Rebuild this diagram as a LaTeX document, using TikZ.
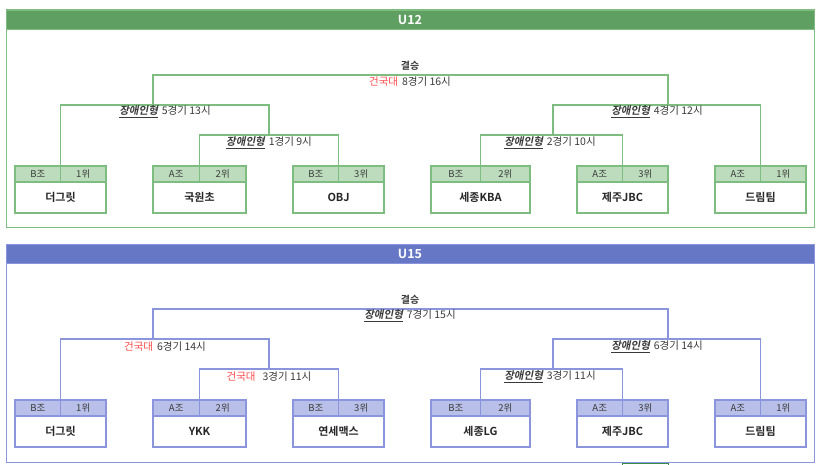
\documentclass[tikz,border=0pt]{standalone}
\usepackage{fontspec}
\setmainfont{Noto Sans CJK KR}[BoldFont={* Bold}, ItalicFont={*}, ItalicFeatures={FakeSlant=0.2}, BoldItalicFont={* Bold}, BoldItalicFeatures={FakeSlant=0.2}]
\usetikzlibrary{positioning}

\definecolor{gbar}{HTML}{5FA062}
\definecolor{gline}{HTML}{7DBE80}
\definecolor{ghead}{HTML}{BDDCBD}
\definecolor{bbar}{HTML}{6677C6}
\definecolor{bline}{HTML}{8A95DE}
\definecolor{bhead}{HTML}{B8BFE8}
\definecolor{txt}{HTML}{3A3A3A}
\definecolor{kred}{HTML}{FF4A4A}
\definecolor{nextg}{HTML}{3A8A48}

\tikzstyle{cellbox} = [rectangle, draw=lc, fill=hc, line width=1.3pt, minimum height=16pt, inner sep=0pt, outer sep=0pt, text=txt, font=\fontsize{9.5}{10}\selectfont]
\tikzstyle{teambox} = [rectangle, draw=lc, fill=white, line width=1.3pt, minimum height=31pt, inner sep=0pt, outer sep=0pt, text=black!85, font=\bfseries\fontsize{11}{12}\selectfont]
\tikzstyle{bar} = [rectangle, fill=bc, draw=lc, minimum width=808pt, minimum height=19pt, inner sep=0pt, outer sep=0pt, text=white, font=\bfseries\fontsize{12.5}{14}\selectfont]
\tikzstyle{frame} = [draw=lc, line width=1pt]
\tikzstyle{link} = [draw=lc, line width=1.2pt]
\tikzstyle{info} = [inner sep=0pt, text=txt, font=\fontsize{10.5}{12}\selectfont]

% name, left x, width, group, rank, team
\newcommand{\team}[6]{%
  \node (#1g) [cellbox, minimum width=#3pt/2, anchor=north west] at (#2,166) {#4};
  \node (#1r) [cellbox, minimum width=#3pt/2, anchor=north west] at (#1g.north east) {#5};
  \node (#1) [teambox, minimum width=#3pt, anchor=north west] at (#1g.south west) {#6};
}
\newcommand{\jang}{\underline{\textbf{\textit{장애인형}}}\hspace{4pt}}
\newcommand{\kku}{\textcolor{kred}{건국대}\hspace{4pt}}

\begin{document}
\begin{tikzpicture}[x=1pt, y=-1pt]
\useasboundingbox (0,0) rectangle (819,465);

% U12
\begin{scope}
  \colorlet{lc}{gline}\colorlet{hc}{ghead}\colorlet{bc}{gbar}
  \draw [frame] (6,10) rectangle (814,228);
  \node (a-title) [bar, anchor=north west] at (6,10) {U12};

  \team{a1}{15}{91}{B조}{1위}{더그릿}
  \team{a2}{153}{93}{A조}{2위}{국원초}
  \team{a3}{293}{91}{B조}{3위}{OBJ}
  \team{a4}{431}{99}{B조}{2위}{세종KBA}
  \team{a5}{577}{91}{A조}{3위}{제주JBC}
  \team{a6}{715}{91}{A조}{1위}{드림팀}

  \coordinate (a-m1) at (269,135);
  \coordinate (a-m2) at (553,135);
  \coordinate (a-m5) at (153,105);
  \coordinate (a-m4) at (668,105);
  \coordinate (a-fin) at (410,75);

  \draw [link] (a2g.north east) |- (a-m1) -| (a3g.north east);
  \draw [link] (a4g.north east) |- (a-m2) -| (a5g.north east);
  \draw [link] (a1g.north east) |- (a-m5) -| (a-m1);
  \draw [link] (a-m2) |- (a-m4) -| (a6g.north east);
  \draw [link] (a-m5) |- (a-fin) -| (a-m4);

  \node (a-final) [info, font=\bfseries\fontsize{10}{12}\selectfont] at (410,66) {결승};
  \node (a-l8) [info] at (410,82) {\kku 8경기 16시};
  \node (a-l5) [info] at (165,112) {\jang 5경기 13시};
  \node (a-l1) [info] at (269,143) {\jang 1경기 9시};
  \node (a-l4) [info] at (657,112) {\jang 4경기 12시};
  \node (a-l2) [info] at (550,143) {\jang 2경기 10시};
\end{scope}

% U15
\begin{scope}[yshift=-234pt]
  \colorlet{lc}{bline}\colorlet{hc}{bhead}\colorlet{bc}{bbar}
  \draw [frame] (6,10) rectangle (814,228);
  \node (b-title) [bar, anchor=north west] at (6,10) {U15};

  \team{b1}{15}{91}{B조}{1위}{더그릿}
  \team{b2}{153}{93}{A조}{2위}{YKK}
  \team{b3}{293}{91}{B조}{3위}{연세맥스}
  \team{b4}{431}{99}{B조}{2위}{세종LG}
  \team{b5}{577}{91}{A조}{3위}{제주JBC}
  \team{b6}{715}{91}{A조}{1위}{드림팀}

  \coordinate (b-m3l) at (269,135);
  \coordinate (b-m3r) at (553,135);
  \coordinate (b-m6l) at (153,105);
  \coordinate (b-m6r) at (668,105);
  \coordinate (b-fin) at (410,75);

  \draw [link] (b2g.north east) |- (b-m3l) -| (b3g.north east);
  \draw [link] (b4g.north east) |- (b-m3r) -| (b5g.north east);
  \draw [link] (b1g.north east) |- (b-m6l) -| (b-m3l);
  \draw [link] (b-m3r) |- (b-m6r) -| (b6g.north east);
  \draw [link] (b-m6l) |- (b-fin) -| (b-m6r);

  \node (b-final) [info, font=\bfseries\fontsize{10}{12}\selectfont] at (410,66) {결승};
  \node (b-l7) [info] at (410,82) {\jang 7경기 15시};
  \node (b-l6a) [info] at (165,113) {\kku 6경기 14시};
  \node (b-l3a) [info] at (269,143) {\kku\hspace{3pt}3경기 11시};
  \node (b-l6b) [info] at (657,113) {\jang 6경기 14시};
  \node (b-l3b) [info] at (550,143) {\jang 3경기 11시};
\end{scope}

% next panel
\draw [draw=nextg, line width=1pt] (622,470) |- (668,463.5) -- (668,470);
\end{tikzpicture}
\end{document}
